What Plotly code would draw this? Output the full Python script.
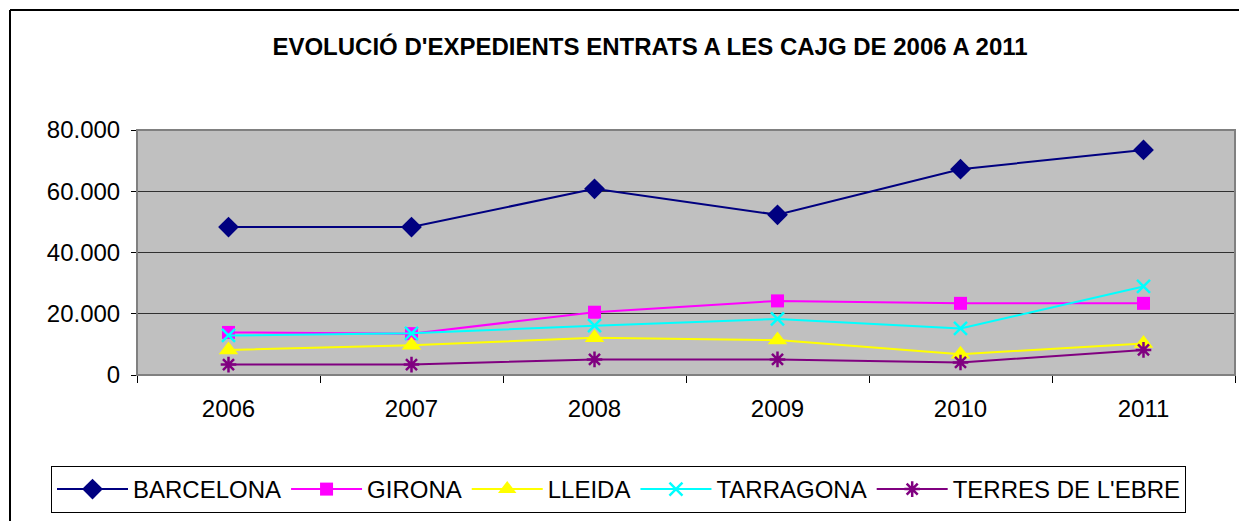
import plotly.graph_objects as go

years = ["2006", "2007", "2008", "2009", "2010", "2011"]
barcelona = [48300, 48300, 60800, 52300, 67200, 73500]
girona = [13900, 13500, 20500, 24200, 23400, 23400]
lleida = [8200, 9700, 12200, 11400, 6800, 10300]
tarragona = [12900, 13600, 16100, 18300, 15200, 28900]
terres = [3400, 3400, 5100, 5100, 4100, 8200]

series = [
    ("BARCELONA", barcelona, "#000080", "diamond", 16, 0),
    ("GIRONA", girona, "#FF00FF", "square", 13, 0),
    ("LLEIDA", lleida, "#FFFF00", "triangle-up", 17, 0),
    ("TARRAGONA", tarragona, "#00FFFF", "x-thin-open", 13, 2.5),
    ("TERRES DE L'EBRE", terres, "#800080", "asterisk-open", 13, 2.5),
]

W, H = 1247, 521
OFF = 8  # page body margin
# desired screen positions of plot area
SL, ST, SR, SB = 137, 130, 1235, 375
L, T = SL - OFF, ST - OFF
R = W - (SR - OFF)
B = H - (SB - OFF)
pw, ph = W - L - R, H - T - B

fig = go.Figure()
for name, vals, col, sym, sz, lw in series:
    fig.add_trace(go.Scatter(
        x=years, y=vals, name=name, mode="lines+markers",
        line=dict(color=col, width=2),
        marker=dict(symbol=sym, size=sz, color=col,
                    line=dict(color=col, width=lw)),
    ))

def px_x(p):
    return (p - SL) / pw

def px_y(p):
    return (SB - p) / ph

fig.update_layout(
    width=W, height=H,
    margin=dict(l=L, r=R, t=T, b=B),
    paper_bgcolor="white",
    plot_bgcolor="#C0C0C0",
    separators=",.",
    font=dict(family="Liberation Sans, Arial, sans-serif", color="black", size=24),
    title=dict(text="<b>EVOLUCIÓ D'EXPEDIENTS ENTRATS A LES CAJG DE 2006 A 2011</b>",
               x=(650 - OFF) / W, xanchor="center", xref="container",
               y=1 - (47 - OFF) / H, yanchor="middle", yref="container",
               font=dict(size=24, color="black")),
    xaxis=dict(type="category", range=[-0.5, 5.5], showgrid=False,
               tickson="boundaries", ticks="outside", ticklen=7, tickcolor="black",
               showline=True, linecolor="black", linewidth=1, mirror=False,
               tickfont=dict(size=24), zeroline=False, ticklabelstandoff=12),
    yaxis=dict(range=[0, 80000], dtick=20000, tickformat=",d",
               showgrid=True, gridcolor="#303030", gridwidth=1,
               ticks="outside", ticklen=5, tickcolor="black",
               showline=True, linecolor="black", linewidth=1,
               tickfont=dict(size=24), zeroline=False, ticklabelstandoff=6),
    showlegend=True,
    legend=dict(orientation="h", x=px_x(51), y=px_y(466), xanchor="left", yanchor="top",
                bgcolor="white", bordercolor="black", borderwidth=1,
                font=dict(size=24), itemwidth=71, traceorder="normal"),
)

# plot area border
fig.add_shape(type="rect", xref="paper", yref="paper", x0=0, y0=0, x1=1, y1=1,
              line=dict(color="#808080", width=2), fillcolor="rgba(0,0,0,0)", layer="above")
# outer chart border (left and top visible)
fig.add_shape(type="line", xref="paper", yref="paper",
              x0=px_x(10), y0=px_y(10), x1=px_x(1300), y1=px_y(10),
              line=dict(color="black", width=2))
fig.add_shape(type="line", xref="paper", yref="paper",
              x0=px_x(10), y0=px_y(10), x1=px_x(10), y1=px_y(560),
              line=dict(color="black", width=2))

fig.write_html("out.html")
